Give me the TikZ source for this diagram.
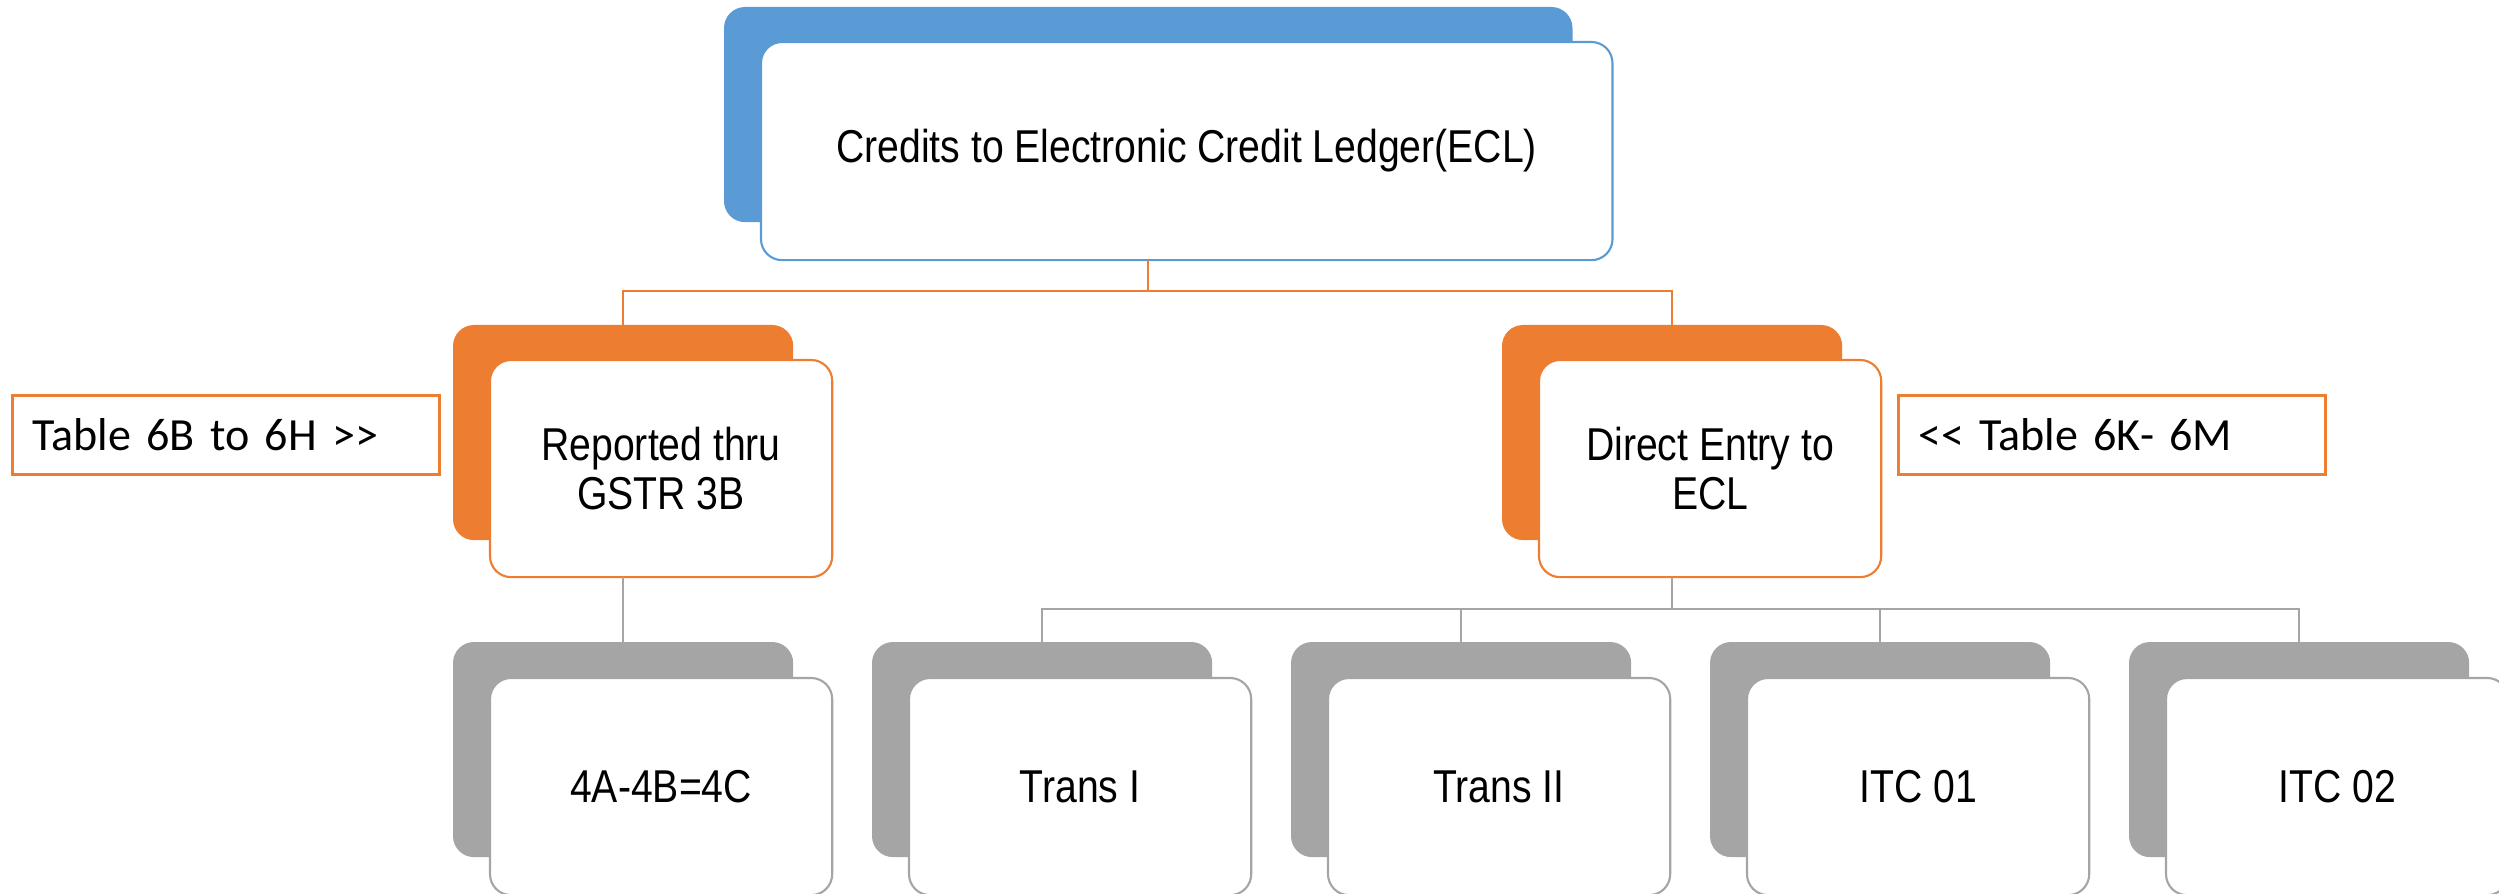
\documentclass[tikz,border=0pt]{standalone}
\usepackage{fontspec}
\newfontfamily\mainf{Liberation Sans}[FakeStretch=0.85]
\newfontfamily\tabf{Carlito}
\definecolor{accblue}{HTML}{5B9BD5}
\definecolor{accorange}{HTML}{ED7D31}
\definecolor{accgray}{HTML}{A5A5A5}
\begin{document}
\begin{tikzpicture}[x=0.01cm,y=-0.01cm,
  backbox/.style={rounded corners=0.21cm, inner sep=0pt, outer sep=0pt,
    minimum width=3.40cm, minimum height=2.15cm, anchor=north west},
  frontbox/.style={draw, fill=white, rounded corners=0.21cm, inner sep=0pt, outer sep=0pt,
    minimum width=3.42cm, minimum height=2.17cm, anchor=north west, line width=0.6pt,
    align=center, font=\mainf\fontsize{13.1}{14.2}\selectfont},
  tablebox/.style={draw=accorange, fill=white, line width=0.8pt, anchor=north west,
    minimum height=0.79cm, inner xsep=0.2cm, inner ysep=0pt, text width=3.87cm,
    align=left, font=\tabf\fontsize{13.1}{16}\selectfont},
  oline/.style={draw=accorange, line width=0.7pt},
  gline/.style={draw=accgray, line width=0.7pt}]
\useasboundingbox (0,0) rectangle (2499,894);
\clip (0,0) rectangle (2499,894);

% top level
\node[backbox, fill=accblue, minimum width=8.48cm] (topB) at (724,7) {};
\node[frontbox, draw=accblue, minimum width=8.51cm, minimum height=2.18cm] (topF) at (761,42)
  {Credits to Electronic Credit Ledger(ECL)};

% second level
\node[backbox, fill=accorange] (lB) at (453,325) {};
\node[frontbox, draw=accorange] (lF) at (490,360) {Reported thru\\GSTR 3B};
\node[backbox, fill=accorange] (rB) at (1502,325) {};
\node[frontbox, draw=accorange] (rF) at (1539,360) {Direct Entry to\\ECL};

% side notes
\node[tablebox] (tL) at (11,394) {Table 6B to 6H >>};
\node[tablebox] (tR) at (1897,394) {<< Table 6K- 6M};

% third level
\foreach \n/\x/\t in {g1/453/4A-4B=4C, g2/872/Trans I, g3/1291/Trans II,
                      g4/1710/ITC 01, g5/2129/ITC 02} {
  \node[backbox, fill=accgray] (\n B) at (\x,642) {};
  \node[frontbox, draw=accgray] (\n F) at (\x+37,678) {\t};
}

% connectors
\draw[oline] (topF.south -| topB.north) -- ++(0,31) -| (lB.north);
\draw[oline] (topF.south -| topB.north) -- ++(0,31) -| (rB.north);
\draw[gline] (lF.south -| lB.north) -- (g1B.north);
\foreach \n in {g2,g3,g4,g5}
  \draw[gline] (rF.south -| rB.north) -- ++(0,32) -| (\n B.north);
\end{tikzpicture}
\end{document}
